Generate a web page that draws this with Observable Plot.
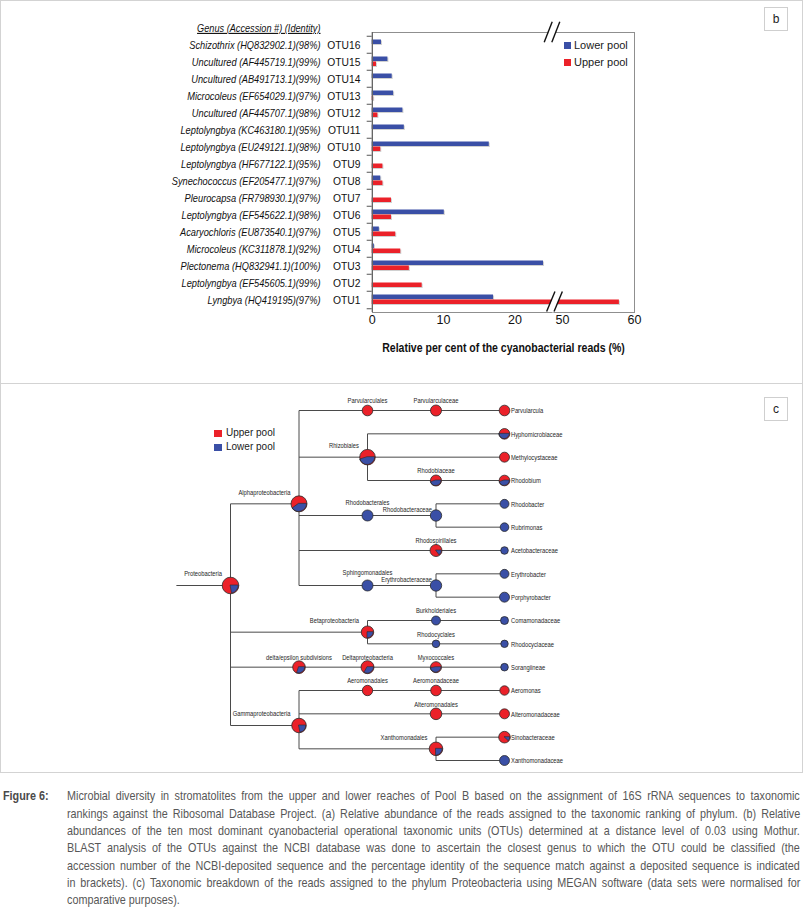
<!DOCTYPE html>
<html>
<head>
<meta charset="utf-8">
<script src="https://cdn.jsdelivr.net/npm/d3@7"></script>
<script src="https://cdn.jsdelivr.net/npm/@observablehq/plot@0.6"></script>
<style>
  body { margin: 0; background: #fff; }
  #root { position: relative; width: 804px; height: 907px; overflow: hidden; font-family: 'Liberation Sans', Arial, sans-serif; background: #fff; }
  .panel { position: absolute; box-sizing: border-box; border: 1px solid #d3d3d3; }
  .tag { position: absolute; box-sizing: border-box; width: 24px; height: 24px; border: 1px solid #cfcfcf; font: 12px 'Liberation Sans', Arial, sans-serif; line-height: 22px; text-align: center; color: #222; }
  .sq { position: absolute; width: 7px; height: 7px; }
  .lt { position: absolute; white-space: nowrap; color: #1a1a1a; }
  .holder { position: absolute; left: 0; }
  .holder svg { display: block; overflow: visible; }
  #figlab { position: absolute; left: 3px; font-weight: bold; color: #4a4a4a; white-space: nowrap; }
  #figlab span, .cl span { display: inline-block; transform-origin: 0 50%; white-space: nowrap; line-height: 14px; vertical-align: middle; }
  #caption { position: absolute; left: 67px; width: 733px; color: #575757; }
  .cl { white-space: nowrap; }
</style>
</head>
<body>
<div id="root">
  <div class="panel" style="left:0;top:0;width:803px;height:384px;"></div>
  <div class="panel" style="left:0;top:383px;width:803px;height:390px;"></div>
  <div class="holder" id="pb" style="top:0;"></div>
  <div class="holder" id="pc" style="top:383px;"></div>
  <div class="tag" style="left:764px;top:7px;">b</div>
  <div class="tag" style="left:764px;top:397px;">c</div>
  <div id="legB"></div>
  <div id="legC"></div>
  <div id="figlab"><span>Figure 6:</span></div>
  <div id="caption"></div>
</div>
<script>
// ---------------- Panel b data ----------------
const otus = ["OTU16","OTU15","OTU14","OTU13","OTU12","OTU11","OTU10","OTU9","OTU8","OTU7","OTU6","OTU5","OTU4","OTU3","OTU2","OTU1"];
const genera = [
  "Schizothrix (HQ832902.1)(98%)",
  "Uncultured (AF445719.1)(99%)",
  "Uncultured (AB491713.1)(99%)",
  "Microcoleus (EF654029.1)(97%)",
  "Uncultured (AF445707.1)(98%)",
  "Leptolyngbya (KC463180.1)(95%)",
  "Leptolyngbya (EU249121.1)(98%)",
  "Leptolyngbya (HF677122.1)(95%)",
  "Synechococcus (EF205477.1)(97%)",
  "Pleurocapsa (FR798930.1)(97%)",
  "Leptolyngbya (EF545622.1)(98%)",
  "Acaryochloris (EU873540.1)(97%)",
  "Microcoleus (KC311878.1)(92%)",
  "Plectonema (HQ832941.1)(100%)",
  "Leptolyngbya (EF545605.1)(99%)",
  "Lyngbya (HQ419195)(97%)"
];
const lowerPool = [1.3, 2.2, 2.8, 3.0, 4.3, 4.5, 16.4, 0, 1.2, 0, 10.1, 1.0, 0.3, 24.0, 0, 17.0];
const upperPool = [0, 0.6, 0, 0.2, 0.8, 0, 1.2, 1.5, 1.5, 2.7, 2.7, 3.3, 4.0, 5.2, 7.0, 57.9];
const xTicks = [0, 10, 20, 50, 60];
const axisBreak = [25.4, 48.75];
const seriesNames = ["Lower pool", "Upper pool"];
const headerText = "Genus (Accession #) (Identity)";
const xLabel = "Relative per cent of the cyanobacterial reads (%)";

// ---------------- Panel c data ----------------
const taxa = [
  "Proteobacteria",
  "Alphaproteobacteria",
  "Parvularculales","Parvularculaceae","Parvularcula",
  "Rhizobiales","Hyphomicrobiaceae","Methylocystaceae","Rhodobiaceae","Rhodobium",
  "Rhodobacterales","Rhodobacteraceae","Rhodobacter","Rubrimonas",
  "Rhodospirillales","Acetobacteraceae",
  "Sphingomonadales","Erythrobacteraceae","Erythrobacter","Porphyrobacter",
  "Betaproteobacteria","Burkholderiales","Comamonadaceae","Rhodocyclales","Rhodocyclaceae",
  "delta/epsilon subdivisions","Deltaproteobacteria","Myxococcales","Sorangiineae",
  "Gammaproteobacteria","Aeromonadales","Aeromonadaceae","Aeromonas","Alteromonadales","Alteromonadaceae","Xanthomonadales","Sinobacteraceae","Xanthomonadaceae"
];
const parentTaxa = [
  "",
  "Proteobacteria",
  "Alphaproteobacteria","Parvularculales","Parvularculaceae",
  "Alphaproteobacteria","Rhizobiales","Rhizobiales","Rhizobiales","Rhodobiaceae",
  "Alphaproteobacteria","Rhodobacterales","Rhodobacteraceae","Rhodobacteraceae",
  "Alphaproteobacteria","Rhodospirillales",
  "Alphaproteobacteria","Sphingomonadales","Erythrobacteraceae","Erythrobacteraceae",
  "Proteobacteria","Betaproteobacteria","Burkholderiales","Betaproteobacteria","Rhodocyclales",
  "Proteobacteria","delta/epsilon subdivisions","Deltaproteobacteria","Myxococcales",
  "Proteobacteria","Gammaproteobacteria","Aeromonadales","Aeromonadaceae","Gammaproteobacteria","Alteromonadales","Gammaproteobacteria","Xanthomonadales","Xanthomonadales"
];
// share of the node's reads from the lower pool (blue); rest is upper pool (red)
const lowerShare = [
  0.22,
  0.40,
  0, 0, 0,
  0.45, 0.5, 0, 0.45, 0.45,
  1, 1, 1, 1,
  0.15, 1,
  1, 1, 1, 1,
  0.25, 1, 1, 1, 1,
  0.30, 0.33, 0.47, 1,
  0.22, 0, 0, 0, 0, 0, 0.25, 0.12, 1
];
// relative (normalised) number of reads assigned to each node
const readCount = [
  100,
  93,
  41, 44, 41,
  88, 41, 36, 44, 41,
  44, 47, 29, 27,
  52, 21,
  44, 47, 29, 36,
  56, 29, 23, 21, 20,
  58, 61, 44, 21,
  77, 39, 41, 32, 49, 36, 67, 49, 36
];
const legendC = ["Upper pool", "Lower pool"];

const captionLines = [
  "Microbial diversity in stromatolites from the upper and lower reaches of Pool B based on the assignment of 16S rRNA sequences to taxonomic",
  "rankings against the Ribosomal Database Project. (a) Relative abundance of the reads assigned to the taxonomic ranking of phylum. (b) Relative",
  "abundances of the ten most dominant cyanobacterial operational taxonomic units (OTUs) determined at a distance level of 0.03 using Mothur.",
  "BLAST analysis of the OTUs against the NCBI database was done to ascertain the closest genus to which the OTU could be classified (the",
  "accession number of the NCBI-deposited sequence and the percentage identity of the sequence match against a deposited sequence is indicated",
  "in brackets). (c) Taxonomic breakdown of the reads assigned to the phylum Proteobacteria using MEGAN software (data sets were normalised for",
  "comparative purposes)."
];

// ---------------- styling ----------------
const BLUE = "#3a4fa6";
const RED = "#eb2129";
const SANS = "'Liberation Sans', Arial, sans-serif";

function fontAvailable(name) {
  const ctx = document.createElement("canvas").getContext("2d");
  const s = "abcdefghijklmnopqrstuvwxyzABCDEFGHIJ0123456789";
  ctx.font = "40px monospace"; const w1 = ctx.measureText(s).width;
  ctx.font = `40px '${name}', monospace`; const w2 = ctx.measureText(s).width;
  return Math.abs(w1 - w2) > 1;
}
const hasNarrow = fontAvailable("Liberation Sans Narrow");
const NARROW = hasNarrow ? "'Liberation Sans Narrow', 'Liberation Sans', sans-serif" : SANS;
const squeeze = hasNarrow ? 1 : 0.82;   // horizontal condensing when no narrow face exists

// condense selected SVG texts horizontally around their anchor (keeps them as real text)
function condense(svg, test, factor) {
  if (factor === 1) return;
  const isNum = v => v != null && /^\s*-?[\d.]+(e-?\d+)?\s*$/.test(v);
  d3.select(svg).selectAll("text").each(function() {
    if (!test(this)) return;
    const xa = this.getAttribute("x"), ya = this.getAttribute("y");
    let tx = 0, ty = 0;
    if (isNum(xa)) { tx = +xa; this.setAttribute("x", 0); }
    if (isNum(ya)) { ty = +ya; this.setAttribute("y", 0); }
    const t = this.getAttribute("transform") || "";
    this.setAttribute("transform", `${t} translate(${tx},${ty}) scale(${factor},1)`.trim());
  });
}

// ---------------- Panel b ----------------
const rows = otus.map((otu, i) => ({otu, genus: genera[i], lower: lowerPool[i], upper: upperPool[i]}));

function breakMarks(index, scales, values, dims) {
  const g = d3.create("svg:g");
  const cx = scales.x(axisBreak[0]);
  const yb = scales.y(otus[otus.length - 1]) + scales.y.bandwidth() / 2;
  const spots = [
    {cx: cx - 1, cy: dims.marginTop, h: 20.3, w: 8, gap: 7.6},
    {cx: cx + 1.5, cy: yb + 2, h: 20, w: 8.3, gap: 7.4}
  ];
  for (const s of spots) {
    const seg = (off, stroke, sw) => g.append("line")
      .attr("x1", s.cx + off - s.w / 2).attr("y1", s.cy + s.h / 2)
      .attr("x2", s.cx + off + s.w / 2).attr("y2", s.cy - s.h / 2)
      .attr("stroke", stroke).attr("stroke-width", sw);
    seg(0, "#fff", s.gap - 1);
    seg(-s.gap / 2, "#111", 1.4);
    seg(s.gap / 2, "#111", 1.4);
  }
  return g.node();
}

const plotB = Plot.plot({
  width: 804, height: 383,
  marginLeft: 372, marginRight: 170, marginTop: 32, marginBottom: 71,
  style: {fontFamily: SANS, background: "transparent", overflow: "visible"},
  x: {type: "linear", domain: [0, axisBreak[0], axisBreak[1], 60], range: [371.7, 553, 553, 634], axis: null},
  y: {type: "band", domain: otus, range: [31.7, 311.7], padding: 0, axis: null},
  marks: [
    Plot.barX(rows, {y: "otu", x: "lower", fill: "#777", fillOpacity: 0.35, insetTop: 3.5, insetBottom: 9, dx: 1, dy: 1}),
    Plot.barX(rows, {y: "otu", x: "upper", fill: "#777", fillOpacity: 0.35, insetTop: 8.5, insetBottom: 4, dx: 1, dy: 1}),
    Plot.barX(rows, {y: "otu", x: "lower", fill: BLUE, insetTop: 3.5, insetBottom: 9}),
    Plot.barX(rows, {y: "otu", x: "upper", fill: RED, insetTop: 8.5, insetBottom: 4}),
    Plot.frame({stroke: "#8f8f8f"}),
    Plot.ruleX([0], {stroke: "#555"}),
    Plot.ruleY(otus, {y: d => d, x1: 0, x2: 0, insetLeft: -5, dy: -8.75, stroke: "#555"}),
    Plot.ruleY([otus[otus.length - 1]], {y: d => d, x1: 0, x2: 0, insetLeft: -5, dy: 8.75, stroke: "#555"}),
    breakMarks,
    Plot.text(rows, {y: "otu", text: "genus", frameAnchor: "left", dx: -52, textAnchor: "end",
      fontFamily: NARROW, fontStyle: "italic", fontSize: 11.3, fill: "#111"}),
    Plot.text(rows, {y: "otu", text: "otu", frameAnchor: "left", dx: -12, textAnchor: "end",
      fontFamily: SANS, fontSize: 11.2, fill: "#111"}),
    Plot.text([headerText], {frameAnchor: "top-left", dx: -52, dy: -8.7, textAnchor: "end",
      fontFamily: NARROW, fontStyle: "italic", fontSize: 11.2, fill: "#111"}),
    Plot.text(xTicks, {x: d => d, text: d => String(d), frameAnchor: "bottom", dy: 11.5,
      fontFamily: SANS, fontSize: 12.5, fill: "#111"}),
    Plot.text([xLabel], {frameAnchor: "bottom", dy: 39, fontFamily: NARROW, fontWeight: "bold",
      fontSize: 13.5, fill: "#111"})
  ]
});
document.getElementById("pb").appendChild(plotB);
d3.select(plotB).selectAll("text").filter(function() { return this.textContent === headerText; })
  .style("text-decoration", "underline");
const genusSet = new Set([...genera, headerText]);
condense(plotB, t => genusSet.has(t.textContent), squeeze);
condense(plotB, t => t.textContent === xLabel, hasNarrow ? 0.95 : 0.78);
condense(plotB, t => otus.includes(t.textContent), 0.92);

// legend b
(function() {
  const el = document.getElementById("legB");
  const items = [{name: seriesNames[0], color: BLUE, top: 41.5}, {name: seriesNames[1], color: RED, top: 59}];
  for (const it of items) {
    const sq = document.createElement("div");
    sq.className = "sq"; sq.style.left = "564px"; sq.style.top = it.top + "px"; sq.style.background = it.color;
    el.appendChild(sq);
    const t = document.createElement("div");
    t.className = "lt"; t.style.left = "574px"; t.style.top = (it.top - 3) + "px";
    t.style.font = "11px " + SANS; t.style.lineHeight = "13px"; t.textContent = it.name;
    el.appendChild(t);
  }
})();

// ---------------- Panel c ----------------
const table = taxa.map((name, i) => ({name, parent: parentTaxa[i] || null, lower: lowerShare[i], reads: readCount[i]}));
const root = d3.stratify().id(d => d.name).parentId(d => d.parent)(table);
const leafOrder = new Map(root.leaves().map((l, i) => [l.id, i]));
const nodes = [];
root.each(n => {
  const lv = n.leaves();
  nodes.push({
    name: n.id, lower: n.data.lower, reads: n.data.reads,
    col: root.height - n.height,
    row: (leafOrder.get(lv[0].id) + leafOrder.get(lv[lv.length - 1].id)) / 2,
    node: n
  });
});
const byName = new Map(nodes.map(d => [d.name, d]));
const stemLength = 0.79;
const hEdges = nodes.filter(d => d.node.parent).map(d => ({x1: byName.get(d.node.parent.id).col, x2: d.col, y: d.row}));
hEdges.push({x1: -stemLength, x2: 0, y: byName.get(root.id).row});
const vEdges = nodes.filter(d => d.node.children && d.node.children.length > 1).map(d => {
  const rs = d.node.children.map(c => byName.get(c.id).row);
  return {x: d.col, y1: d3.min(rs), y2: d3.max(rs)};
});
const isMulti = n => n.children && n.children.length > 1;
const leaves = nodes.filter(d => !d.node.children);
const singles = nodes.filter(d => d.node.children && d.node.children.length === 1);
const singlesLow = singles.filter(d => !isMulti(d.node.children[0]));
const singlesHigh = singles.filter(d => isMulti(d.node.children[0]));
const multis = nodes.filter(d => isMulti(d.node));
const rMax = 8.3, readMax = 100;
const pxR = v => rMax * Math.sqrt(v / readMax);
const multiBig = multis.filter(d => pxR(d.reads) >= 6);
const multiSmall = multis.filter(d => pxR(d.reads) < 6);

function pieWedges(index, scales) {
  const g = d3.create("svg:g");
  const rs = scales.r || (v => pxR(v));
  const arc = d3.arc().innerRadius(0);
  for (const d of nodes) {
    if (d.lower > 0 && d.lower < 1) {
      g.append("path")
        .attr("transform", `translate(${scales.x(d.col)},${scales.y(d.row)})`)
        .attr("d", arc({outerRadius: rs(d.reads), startAngle: Math.PI / 2, endAngle: Math.PI / 2 + 2 * Math.PI * d.lower}))
        .attr("fill", BLUE).attr("stroke", "#2a2a2a").attr("stroke-width", 0.6);
    }
  }
  return g.node();
}

const labelFont = {fontFamily: NARROW, fontSize: 7.1, fill: "#1e1e1e"};
const plotC = Plot.plot({
  width: 804, height: 390,
  marginLeft: 230, marginRight: 300, marginTop: 27, marginBottom: 13,
  style: {fontFamily: SANS, background: "transparent", overflow: "visible"},
  x: {domain: [0, 4], axis: null},
  y: {domain: [0, 15], reverse: true, axis: null},
  r: {type: "sqrt", domain: [0, readMax], range: [0, rMax]},
  marks: [
    Plot.link(hEdges, {x1: "x1", x2: "x2", y1: "y", y2: "y", stroke: "#4a4a4a", strokeWidth: 1}),
    Plot.link(vEdges, {x1: "x", x2: "x", y1: "y1", y2: "y2", stroke: "#4a4a4a", strokeWidth: 1}),
    Plot.dot(nodes, {x: "col", y: "row", r: "reads", fill: d => d.lower >= 1 ? BLUE : RED}),
    pieWedges,
    Plot.dot(nodes, {x: "col", y: "row", r: "reads", fill: "none", stroke: "#2a2a2a", strokeWidth: 0.8}),
    Plot.text(leaves, {x: "col", y: "row", text: "name", textAnchor: "start", dx: 6.5, dy: 0.5, ...labelFont}),
    Plot.text(singlesLow, {x: "col", y: "row", text: "name", textAnchor: "middle", dy: -9.5, ...labelFont}),
    Plot.text(singlesHigh, {x: "col", y: "row", text: "name", textAnchor: "middle", dy: -12.8, ...labelFont}),
    Plot.text(multiBig, {x: "col", y: "row", text: "name", textAnchor: "end", dx: -8.5, dy: -11.5, ...labelFont}),
    Plot.text(multiSmall, {x: "col", y: "row", text: "name", textAnchor: "end", dx: -4, dy: -5.6, ...labelFont})
  ]
});
document.getElementById("pc").appendChild(plotC);
condense(plotC, () => true, squeeze);

// legend c
(function() {
  const el = document.getElementById("legC");
  const items = [{name: legendC[0], color: RED, top: 429.5}, {name: legendC[1], color: BLUE, top: 443.5}];
  for (const it of items) {
    const sq = document.createElement("div");
    sq.className = "sq"; sq.style.left = "214px"; sq.style.top = it.top + "px"; sq.style.background = it.color;
    sq.style.width = "7.5px"; sq.style.height = "7.5px";
    el.appendChild(sq);
    const t = document.createElement("div");
    t.className = "lt"; t.style.left = "226px"; t.style.top = (it.top - 2.2) + "px";
    t.style.font = "10px " + SANS; t.style.lineHeight = "12px"; t.textContent = it.name;
    el.appendChild(t);
  }
})();

// ---------------- Caption ----------------
(function() {
  const fam = hasNarrow ? "'Liberation Sans Narrow', sans-serif" : SANS;
  const size = 13.5;
  const s = hasNarrow ? 0.98 : 0.8;
  const top = 787, lh = 17.3, W = 733;
  const fl = document.getElementById("figlab");
  fl.style.top = top + "px"; fl.style.font = `bold ${size}px ${fam}`; fl.style.lineHeight = lh + "px";
  fl.firstChild.style.transform = `scaleX(${s})`;
  const cap = document.getElementById("caption");
  cap.style.top = top + "px"; cap.style.font = `${size}px ${fam}`; cap.style.lineHeight = lh + "px";
  const spans = [];
  captionLines.forEach((line, i) => {
    const div = document.createElement("div");
    div.className = "cl";
    div.style.height = lh + "px";
    const span = document.createElement("span");
    span.textContent = line;
    span.style.transform = `scaleX(${s})`;
    div.appendChild(span);
    cap.appendChild(div);
    spans.push({span, justify: i < captionLines.length - 1});
  });
  function justify() {
    for (const {span, justify} of spans) {
      span.style.wordSpacing = "0px";
      if (!justify) continue;
      const natural = span.offsetWidth;
      const spaces = (span.textContent.match(/ /g) || []).length;
      span.style.wordSpacing = ((W / s - natural) / spaces) + "px";
    }
  }
  justify();
  if (document.fonts && document.fonts.ready) document.fonts.ready.then(justify);
})();
</script>
</body>
</html>
